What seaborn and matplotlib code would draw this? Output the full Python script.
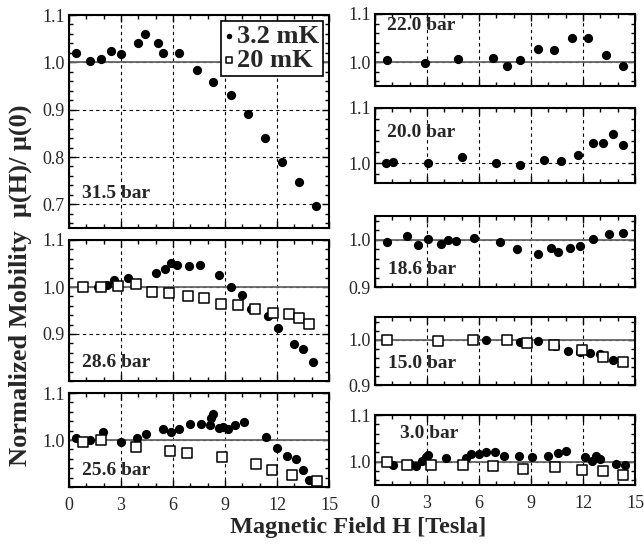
import numpy as np
import seaborn as sns
from matplotlib import pyplot as plt
from matplotlib.ticker import MultipleLocator, FormatStrFormatter

# 31.5 bar
h_315_cold = [0.40, 1.21, 1.83, 2.40, 3.00, 3.96, 4.38, 5.15, 5.40, 6.37, 7.37, 8.33,
              9.35, 10.31, 11.33, 12.29, 13.27, 14.25]
mu_315_cold = [1.019, 1.003, 1.008, 1.023, 1.017, 1.041, 1.060, 1.040, 1.020, 1.019, 0.984, 0.958,
               0.932, 0.891, 0.840, 0.790, 0.747, 0.696]

# 28.6 bar
h_286_cold = [1.65, 2.17, 2.60, 3.42, 5.02, 5.54, 5.88, 6.25, 6.94, 7.56, 8.67, 9.35,
              9.96, 10.50, 11.50, 12.08, 13.00, 13.52, 14.08]
mu_286_cold = [0.999, 1.004, 1.015, 1.020, 1.029, 1.039, 1.051, 1.046, 1.044, 1.047, 1.025, 0.999,
               0.982, 0.954, 0.939, 0.912, 0.878, 0.869, 0.841]
h_286_warm = [0.83, 1.83, 2.81, 3.87, 4.79, 5.79, 6.88, 7.79, 8.77, 9.73, 10.73, 11.75,
              12.69, 13.27, 13.87]
mu_286_warm = [0.999, 1.000, 1.002, 1.006, 0.990, 0.987, 0.980, 0.977, 0.963, 0.962, 0.953, 0.945,
               0.942, 0.934, 0.922]

# 25.6 bar
h_256_cold = [0.40, 1.21, 1.98, 3.00, 3.90, 4.42, 5.40, 5.88, 6.37, 6.98, 7.60, 8.13,
              8.19, 8.33, 8.67, 8.90, 9.19, 9.58, 10.12, 11.35, 11.98, 12.56, 13.08, 13.52,
              13.85, 14.25]
mu_256_cold = [1.005, 0.999, 1.016, 0.996, 1.004, 1.013, 1.023, 1.018, 1.023, 1.034, 1.034, 1.031,
               1.046, 1.055, 1.025, 1.027, 1.023, 1.032, 1.038, 1.007, 0.984, 0.966, 0.959, 0.936,
               0.915, 0.905]
h_256_warm = [0.79, 1.85, 3.85, 5.83, 6.79, 8.81, 10.79, 11.71, 12.88, 14.29]
mu_256_warm = [0.996, 1.000, 0.986, 0.977, 0.973, 0.964, 0.949, 0.936, 0.926, 0.913]

# 22.0 bar
h_220_cold = [0.67, 2.88, 4.81, 6.79, 7.60, 8.37, 9.39, 10.35, 11.35, 12.31, 13.33, 14.29]
mu_220_cold = [1.004, 0.998, 1.006, 1.008, 0.992, 1.005, 1.028, 1.026, 1.051, 1.051, 1.014, 0.992]

# 20.0 bar
h_200_cold = [0.63, 1.06, 3.04, 5.04, 6.98, 8.37, 9.77, 10.73, 11.73, 12.60, 13.14, 13.75, 14.33]
mu_200_cold = [1.000, 1.002, 1.000, 1.011, 1.000, 0.997, 1.005, 1.003, 1.014, 1.036, 1.037, 1.053, 1.032]

# 18.6 bar
h_186_cold = [0.67, 1.83, 2.50, 3.04, 3.81, 4.23, 4.66, 5.73, 7.21, 8.17, 9.42, 10.13,
              10.58, 11.25, 11.83, 12.60, 13.52, 14.29]
mu_186_cold = [0.996, 1.008, 0.988, 1.001, 0.991, 1.000, 0.998, 1.003, 0.996, 0.981, 0.970, 0.982,
               0.975, 0.982, 0.986, 1.002, 1.013, 1.015]

# 15.0 bar
h_150_cold = [6.40, 8.37, 9.39, 10.38, 11.15, 11.83, 12.40, 13.00, 13.75, 14.33]
mu_150_cold = [1.000, 0.995, 0.997, 0.985, 0.975, 0.972, 0.971, 0.969, 0.955, 0.951]
h_150_warm = [0.67, 3.65, 5.63, 7.60, 8.79, 10.35, 11.96, 13.17, 14.33]
mu_150_warm = [1.000, 0.997, 1.000, 1.000, 0.993, 0.988, 0.977, 0.962, 0.951]

# 3.0 bar
h_030_cold = [1.06, 2.02, 2.37, 2.73, 2.94, 3.08, 4.08, 5.25, 5.54, 6.00, 6.40, 6.92,
              7.44, 8.29, 9.04, 9.96, 10.58, 11.00, 12.12, 12.50, 12.73, 12.98, 13.90, 14.42]
mu_030_cold = [0.992, 0.995, 0.990, 1.002, 1.009, 1.014, 1.007, 1.007, 1.016, 1.016, 1.021, 1.021,
               1.012, 1.012, 1.010, 1.012, 1.018, 1.023, 1.010, 1.002, 1.012, 1.006, 0.996, 0.992]
h_030_warm = [0.67, 1.87, 3.23, 5.06, 6.79, 8.56, 10.38, 11.92, 13.13, 14.33]
mu_030_warm = [1.000, 0.992, 0.992, 0.992, 0.990, 0.985, 0.988, 0.983, 0.979, 0.972]

W, H = 644, 546

sns.set_theme(style='ticks')
plt.rcParams['font.family'] = ['Liberation Serif', 'DejaVu Serif']

fig = plt.figure(figsize=(W / 100, H / 100), dpi=100)


def add_panel(left, top, right, bottom):
    # pixel box -> figure fraction
    return fig.add_axes([left / W, 1 - bottom / H, (right - left) / W, (bottom - top) / H])


def draw_panel(ax, label, lx, ly, ylim, yticks, cold, warm=None, solid_one=True, show_x=False):
    sns.scatterplot(x=cold[0], y=cold[1], ax=ax, marker='o', color='black',
                    s=44, linewidth=0, zorder=3, label='3.2 mK')
    if warm is not None:
        sns.scatterplot(x=warm[0], y=warm[1], ax=ax, marker='s', color='white',
                        edgecolor='black', s=50, linewidth=1.1, zorder=4, label='20 mK')
    ax.set_xlim(0, 15)
    ax.set_ylim(*ylim)
    ax.xaxis.set_major_locator(MultipleLocator(3))
    ax.xaxis.set_minor_locator(MultipleLocator(1))
    ax.set_yticks(yticks)
    ax.yaxis.set_minor_locator(MultipleLocator(0.02))
    ax.yaxis.set_major_formatter(FormatStrFormatter('%.1f'))
    ax.tick_params(which='both', direction='in', top=True, right=True,
                   labelsize=13, pad=3, color='black', width=1)
    ax.tick_params(which='major', length=5)
    ax.tick_params(which='minor', length=3)
    ax.tick_params(axis='x', labelbottom=show_x, pad=7)
    ax.grid(True, which='major', color='black', linestyle=(0, (3, 3)), linewidth=0.8)
    if solid_one:
        ax.axhline(1.0, color='#666666', linewidth=1.3, zorder=2)
    for sp in ax.spines.values():
        sp.set_color('black')
        sp.set_linewidth(1.5)
    ax.set_xlabel('')
    ax.set_ylabel('')
    ax.text(lx, ly, label, transform=ax.transAxes, ha='left', va='center',
            fontsize=14, fontweight='bold', zorder=5)
    if ax.get_legend() is not None:
        ax.get_legend().remove()


ax1 = add_panel(69, 15, 329, 228)
draw_panel(ax1, '31.5 bar', 0.05, 0.16, (0.65, 1.1), [0.7, 0.8, 0.9, 1.0, 1.1],
           (h_315_cold, mu_315_cold))
ax2 = add_panel(69, 240, 329, 381)
draw_panel(ax2, '28.6 bar', 0.05, 0.13, (0.8, 1.1), [0.9, 1.0, 1.1],
           (h_286_cold, mu_286_cold), (h_286_warm, mu_286_warm))
ax3 = add_panel(69, 393, 329, 487)
draw_panel(ax3, '25.6 bar', 0.05, 0.18, (0.9, 1.1), [1.0, 1.1],
           (h_256_cold, mu_256_cold), (h_256_warm, mu_256_warm), show_x=True)

ax4 = add_panel(375, 14, 635, 86)
draw_panel(ax4, '22.0 bar', 0.045, 0.84, (0.95, 1.1), [1.0, 1.1], (h_220_cold, mu_220_cold))
ax5 = add_panel(375, 108, 635, 183)
draw_panel(ax5, '20.0 bar', 0.045, 0.67, (0.964, 1.1), [1.0, 1.1], (h_200_cold, mu_200_cold),
           solid_one=False)
ax6 = add_panel(375, 216, 635, 287)
draw_panel(ax6, '18.6 bar', 0.05, 0.25, (0.9, 1.05), [0.9, 1.0], (h_186_cold, mu_186_cold))
ax7 = add_panel(375, 317, 635, 385)
draw_panel(ax7, '15.0 bar', 0.05, 0.31, (0.9, 1.05), [0.9, 1.0],
           (h_150_cold, mu_150_cold), (h_150_warm, mu_150_warm))
ax8 = add_panel(375, 415, 635, 485)
draw_panel(ax8, '3.0 bar', 0.095, 0.73, (0.95, 1.1), [1.0, 1.1],
           (h_030_cold, mu_030_cold), (h_030_warm, mu_030_warm), show_x=True)

# legend lives in the 31.5 bar panel, built from the 28.6 bar artists
handles, labels = ax2.get_legend_handles_labels()
leg = ax1.legend(handles, labels, loc='upper right', bbox_to_anchor=(0.977, 0.972),
                 borderaxespad=0, prop={'size': 19, 'weight': 'bold'}, markerscale=0.6,
                 handlelength=0.35, handletextpad=0.12, borderpad=0.15,
                 labelspacing=0.0, fancybox=False, framealpha=1, edgecolor='black')
leg.get_frame().set_linewidth(1.2)

fig.text(358 / W, 1 - 527 / H, 'Magnetic Field H [Tesla]', ha='center', va='center',
         fontsize=17.5, fontweight='bold')
fig.text(20 / W, 1 - 285 / H, 'Normalized Mobility  μ(H)/ μ(0)', ha='center', va='center',
         rotation=90, fontsize=19, fontweight='bold')

fig.savefig('out.png', dpi=100)
